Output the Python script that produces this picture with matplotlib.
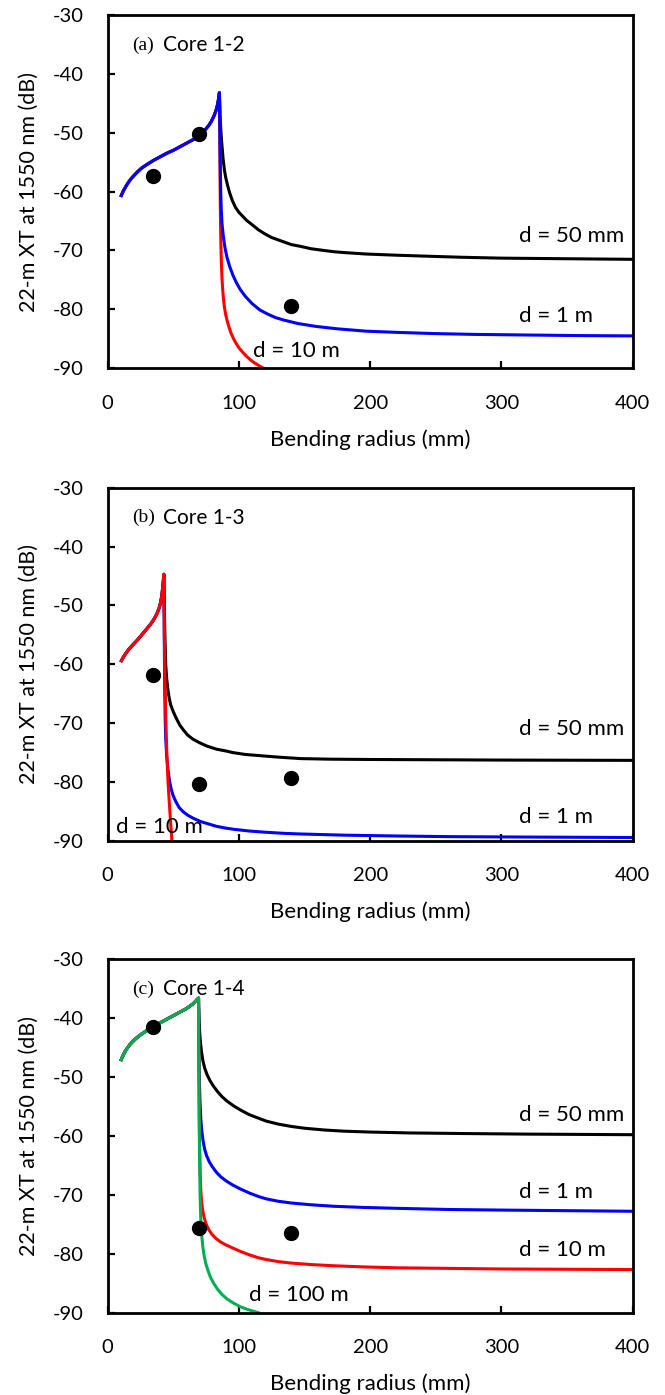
import matplotlib
matplotlib.use("Agg")
import matplotlib.pyplot as plt

SANS = ["Lato", "DejaVu Sans"]
SERIF = ["Liberation Serif", "DejaVu Serif"]

# ---------------- Panel (a) Core 1-2 ----------------
a_left_x = [10, 12, 14, 16, 18, 20, 23, 26, 30, 35, 40, 45, 50, 55, 60, 65, 70, 74, 77, 79, 81, 82.5, 83.5, 84.3, 84.8, 85.2]
a_left_y = [-60.9, -59.9, -59.1, -58.4, -57.8, -57.3, -56.6, -56.0, -55.4, -54.7, -54.1, -53.5, -53.0, -52.4, -51.8,
            -51.2, -50.4, -49.6, -48.8, -48.1, -47.2, -46.3, -45.5, -44.6, -43.9, -43.2]

a_50mm_x = [85.2, 86, 86.5, 87, 88, 89, 90, 91.5, 93, 95, 97.5, 100, 103, 106, 110, 115, 120, 125, 130, 135, 140,
            147, 155, 165, 172, 180, 197, 220, 248, 270, 300, 350, 400]
a_50mm_y = [-43.2, -48.5, -50.3, -51.8, -54.4, -56.3, -57.6, -59.0, -60.2, -61.5, -62.7, -63.5, -64.2, -64.9, -65.6,
            -66.5, -67.2, -67.8, -68.2, -68.6, -69.0, -69.3, -69.7, -70.0, -70.2, -70.35, -70.6, -70.8, -71.0, -71.15,
            -71.3, -71.4, -71.5]

a_1m_x = [85.2, 85.4, 85.6, 85.9, 86.2, 86.6, 87.2, 88.2, 89.5, 91, 93, 95.5, 98, 101, 105, 110, 116, 122, 128, 134,
          145, 159, 175, 197, 220, 248, 280, 320, 360, 400]
a_1m_y = [-43.2, -47, -51, -56, -60, -63, -65.5, -67.6, -69.6, -71.2, -72.7, -74.2, -75.4, -76.6, -77.8, -79.0, -80.1,
          -80.8, -81.4, -81.8, -82.4, -82.9, -83.3, -83.7, -83.9, -84.1, -84.25, -84.35, -84.45, -84.5]

a_10m_x = [85.2, 85.4, 85.5, 85.6, 85.7, 85.9, 86.1, 86.4, 86.7, 87.1, 87.6, 88.2, 89, 90, 91.2, 92.5, 94, 96, 98,
           100, 103, 106, 109, 112, 115, 118.7, 121]
a_10m_y = [-43.2, -47.5, -50, -54, -58, -62.5, -66, -69.5, -72, -74.3, -76.3, -78, -79.6, -80.9, -82.0, -83.0, -84.0,
           -85.0, -85.8, -86.5, -87.3, -88, -88.6, -89.1, -89.5, -90, -90.3]

a_meas_x = [35, 70, 140]
a_meas_y = [-57.4, -50.2, -79.4]

# ---------------- Panel (b) Core 1-3 ----------------
b_left_x = [10, 12, 14, 16, 18, 20, 23, 26, 29, 32, 34, 36, 38, 39.5, 40.5, 41.3, 42, 42.5, 42.9]
b_left_y = [-59.6, -58.8, -58.1, -57.5, -57.0, -56.5, -55.8, -55.0, -54.2, -53.4, -52.8, -52.1, -51.2, -50.3,
            -49.4, -48.4, -47.0, -45.8, -44.7]

b_50mm_x = [42.9, 43.1, 43.4, 43.8, 44.3, 45, 45.8, 46.8, 48, 50, 52, 55, 58, 61, 65, 70, 76, 83, 90, 96, 105, 116,
            130, 147, 170, 200, 250, 300, 400]
b_50mm_y = [-44.7, -48, -52, -56, -60, -62.3, -64, -65.5, -66.8, -68, -69, -70.3, -71.2, -72.0, -72.7, -73.3, -73.9,
            -74.4, -74.7, -75.0, -75.3, -75.5, -75.75, -76.0, -76.1, -76.15, -76.2, -76.25, -76.3]

b_1m_x = [42.9, 43.2, 43.5, 43.9, 44.3, 45, 46, 47.2, 48.5, 50, 52, 54.5, 57.5, 61, 65, 71, 77, 83, 90, 96, 108, 120,
          135, 147, 180, 223, 260, 300, 350, 400]
b_1m_y = [-44.7, -55, -63, -69, -72.5, -75.5, -77.8, -79.8, -81.2, -82.3, -83.3, -84.3, -85.0, -85.6, -86.1, -86.7,
          -87.1, -87.5, -87.8, -88.0, -88.3, -88.5, -88.7, -88.8, -89.0, -89.15, -89.25, -89.3, -89.35, -89.4]

b_10m_x = [42.9, 43.1, 43.3, 43.6, 43.9, 44.3, 44.8, 45.4, 46.1, 46.9, 47.8, 48.9, 49.1]
b_10m_y = [-44.7, -50, -55, -60, -64.5, -68.5, -72.5, -76.5, -80, -83, -86, -89.5, -90.3]

b_meas_x = [35, 70, 140]
b_meas_y = [-61.8, -80.3, -79.3]

# ---------------- Panel (c) Core 1-4 ----------------
c_left_x = [10, 11.5, 13, 15, 17, 20, 23, 26, 30, 35, 40, 45, 50, 55, 60, 65, 69.3]
c_left_y = [-47.3, -46.5, -45.8, -45.1, -44.5, -43.8, -43.2, -42.7, -42.1, -41.4, -40.8, -40.2, -39.6, -39.0,
            -38.4, -37.6, -36.6]

c_50mm_x = [69.3, 69.5, 69.8, 70.2, 70.8, 71.6, 72.6, 74, 75.8, 78, 80.5, 83.5, 87, 91, 96, 102, 108, 115, 121, 130,
            140, 150, 165, 180, 200, 230, 270, 320, 400]
c_50mm_y = [-36.6, -38.5, -40.5, -42.5, -44.2, -45.8, -47.2, -48.5, -49.6, -50.6, -51.5, -52.4, -53.3, -54.1, -54.9,
            -55.7, -56.4, -57.0, -57.5, -58.0, -58.4, -58.7, -59.0, -59.2, -59.35, -59.5, -59.6, -59.7, -59.8]

c_1m_x = [69.3, 69.5, 69.7, 70, 70.4, 71, 71.8, 72.8, 74, 75.5, 77.5, 80, 83, 86, 90, 95, 101, 108, 115, 121, 130,
          140, 155, 172, 195, 220, 260, 300, 350, 400]
c_1m_y = [-36.6, -42, -47, -51, -54, -57, -59.2, -60.9, -62.3, -63.4, -64.4, -65.3, -66.2, -66.9, -67.6, -68.3,
          -69.0, -69.7, -70.3, -70.7, -71.1, -71.4, -71.7, -71.95, -72.15, -72.3, -72.5, -72.6, -72.7, -72.8]

c_10m_x = [69.3, 69.5, 69.8, 70.1, 70.5, 71, 71.7, 72.5, 73.5, 75, 77, 79.5, 82.5, 86, 90, 95, 101, 108, 115, 121,
           130, 140, 155, 172, 195, 220, 260, 300, 350, 400]
c_10m_y = [-36.6, -45, -54, -61, -66, -69.2, -71.3, -72.7, -73.8, -74.9, -75.9, -76.7, -77.4, -78.0, -78.5, -79.0,
           -79.6, -80.2, -80.7, -81.0, -81.35, -81.6, -81.85, -82.05, -82.25, -82.4, -82.5, -82.6, -82.65, -82.7]

c_100m_x = [69.3, 69.5, 69.8, 70.1, 70.5, 71, 71.7, 72.6, 73.7, 75, 76.7, 78.6, 81, 84, 87, 91, 96, 101, 107, 113, 116]
c_100m_y = [-36.6, -47, -57, -64, -70, -74, -76.8, -78.9, -80.5, -81.8, -83.0, -84.1, -85.1, -86.1, -86.9, -87.7,
            -88.4, -89.0, -89.5, -89.9, -90.1]

c_meas_x = [35, 70, 140]
c_meas_y = [-41.5, -75.7, -76.5]

# ---------------- labels ----------------
x_ticks = [0, 100, 200, 300, 400]
y_ticks = [-90, -80, -70, -60, -50, -40, -30]
x_label = "Bending radius (mm)"
y_label = "22-m XT at 1550 nm (dB)"

BLACK, BLUE, RED, GREEN = "#000000", "#0000FF", "#FF0000", "#00B050"

panels = [
    dict(tag="(a)", core="Core 1-2", bottom=0.7360,
         curves=[(a_left_x + a_50mm_x, a_left_y + a_50mm_y, BLACK),
                 (a_left_x + a_10m_x, a_left_y + a_10m_y, RED),
                 (a_left_x + a_1m_x, a_left_y + a_1m_y, BLUE)],
         meas=(a_meas_x, a_meas_y),
         texts=[("d = 50 mm", 313, -67.5), ("d = 1 m", 313, -81.1), ("d = 10 m", 110.6, -87.0)]),
    dict(tag="(b)", core="Core 1-3", bottom=0.3971,
         curves=[(b_left_x + b_50mm_x, b_left_y + b_50mm_y, BLACK),
                 (b_left_x + b_1m_x, b_left_y + b_1m_y, BLUE),
                 (b_left_x + b_10m_x, b_left_y + b_10m_y, RED)],
         meas=(b_meas_x, b_meas_y),
         texts=[("d = 50 mm", 313, -71.0), ("d = 1 m", 313, -85.9), ("d = 10 m", 6.2, -87.6)]),
    dict(tag="(c)", core="Core 1-4", bottom=0.0591,
         curves=[(c_left_x + c_50mm_x, c_left_y + c_50mm_y, BLACK),
                 (c_left_x + c_1m_x, c_left_y + c_1m_y, BLUE),
                 (c_left_x + c_10m_x, c_left_y + c_10m_y, RED),
                 (c_left_x + c_100m_x, c_left_y + c_100m_y, GREEN)],
         meas=(c_meas_x, c_meas_y),
         texts=[("d = 50 mm", 313, -56.4), ("d = 1 m", 313, -69.5), ("d = 10 m", 313, -79.4),
                ("d = 100 m", 108, -87.0)]),
]

fig = plt.figure(figsize=(6.65, 13.95), dpi=100)

for p in panels:
    ax = fig.add_axes([0.1617, p["bottom"], 0.7898, 0.2533])
    for xs, ys, col in p["curves"]:
        ax.plot(xs, ys, color=col, lw=2.2, solid_capstyle="butt", solid_joinstyle="round")
    mx, my = p["meas"]
    ax.plot(mx, my, "o", color="black", ms=10, ls="none", zorder=5)
    for s, tx, ty in p["texts"]:
        ax.text(tx, ty, s, ha="left", va="center", fontsize=16, family=SANS)
    ax.text(18.5, -35.1, p["tag"], ha="left", va="center", fontsize=14, family=SERIF)
    ax.text(42.5, -35.1, p["core"], ha="left", va="center", fontsize=15, family=SANS)

    ax.set_xlim(0, 400)
    ax.set_ylim(-90, -30)
    ax.set_xticks(x_ticks)
    ax.set_yticks(y_ticks)
    ax.set_xticklabels([str(v) for v in x_ticks], family=SANS, fontsize=14.5)
    ax.set_yticklabels([str(v) for v in y_ticks], family=SANS, fontsize=14.5)
    ax.tick_params(axis="both", direction="in", length=5, width=1.6)
    ax.tick_params(axis="y", pad=17)
    ax.tick_params(axis="x", pad=19)
    for sp in ax.spines.values():
        sp.set_linewidth(2.0)
    ax.set_xlabel(x_label, family=SANS, fontsize=16, va="center")
    ax.xaxis.set_label_coords(0.5, -0.201)
    ax.set_ylabel(y_label, family=SANS, fontsize=15.5, va="center")
    ax.yaxis.set_label_coords(-0.150, 0.5)

fig.savefig("out.png", dpi=100)
